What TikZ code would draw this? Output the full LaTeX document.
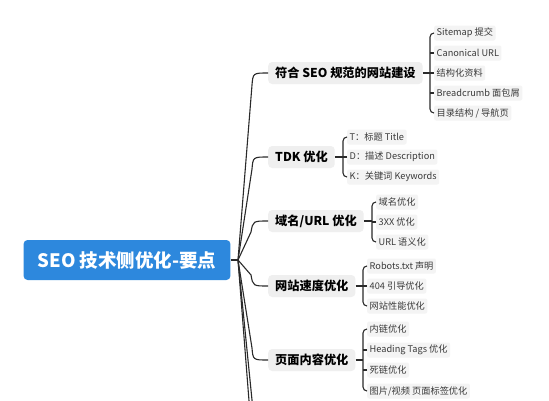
\documentclass[tikz,border=0pt]{standalone}
\usepackage{fontspec}
\setmainfont{Noto Sans CJK SC}
\usetikzlibrary{calc}
\definecolor{rootblue}{HTML}{2D88DD}
\definecolor{linegray}{HTML}{2A2A2A}
\definecolor{mainfill}{HTML}{EFEFEF}
\definecolor{leaffill}{HTML}{F4F4F4}
\definecolor{leaftext}{HTML}{3A3A3A}
\tikzset{
  rootbox/.style={fill=rootblue, text=white, rounded corners=4pt, font=\fontsize{18.5}{20}\selectfont\bfseries, inner xsep=14pt, minimum height=40pt, inner ysep=0pt},
  mainbox/.style={fill=mainfill, text=black, rounded corners=4pt, font=\fontsize{12.2}{13}\selectfont\bfseries, inner xsep=7pt, minimum height=22pt, inner ysep=0pt, anchor=west},
  leafbox/.style={fill=leaffill, text=leaftext, rounded corners=2pt, font=\fontsize{9.2}{10}\selectfont, inner xsep=2.5pt, minimum height=15pt, inner ysep=0pt, anchor=west},
  conn/.style={draw=linegray, line width=1.1pt},
  brk/.style={draw=linegray, line width=1.1pt, rounded corners=4pt},
}
\begin{document}
\begin{tikzpicture}[x=1pt,y=-1pt]
\useasboundingbox (0,0) rectangle (549,400);
\fill[white] (0,0) rectangle (549,400);
\clip (0,0) rectangle (549,400);

% root
\node[rootbox] (root) at (127,260) {SEO 技术侧优化-要点};
\coordinate (hub) at (238,260);
\coordinate (off1) at (250.5,420);
\coordinate (off2) at (254,420);

% main nodes
\node[mainbox] (m1) at (268,73) {符合 SEO 规范的网站建设};
\node[mainbox] (m2) at (268,157) {TDK 优化};
\node[mainbox] (m3) at (268,221) {域名/URL 优化};
\node[mainbox] (m4) at (268,286) {网站速度优化};
\node[mainbox] (m5) at (268,360) {页面内容优化};

% leaves group 1
\node[leafbox] (a1) at (434,33) {Sitemap 提交};
\node[leafbox] (a2) at (434,53) {Canonical URL};
\node[leafbox] (a3) at (434,73) {结构化资料};
\node[leafbox] (a4) at (434,93) {Breadcrumb 面包屑};
\node[leafbox] (a5) at (434,113) {目录结构 / 导航页};
% group 2
\node[leafbox] (b1) at (347,137) {T：标题 Title};
\node[leafbox] (b2) at (347,157) {D：描述 Description};
\node[leafbox] (b3) at (347,177) {K：关键词 Keywords};
% group 3
\node[leafbox] (c1) at (376,202) {域名优化};
\node[leafbox] (c2) at (376,222) {3XX 优化};
\node[leafbox] (c3) at (376,242) {URL 语义化};
% group 4
\node[leafbox] (d1) at (367,266) {Robots.txt 声明};
\node[leafbox] (d2) at (367,286) {404 引导优化};
\node[leafbox] (d3) at (367,306) {网站性能优化};
% group 5
\node[leafbox] (e1) at (367,329) {内链优化};
\node[leafbox] (e2) at (367,350) {Heading Tags 优化};
\node[leafbox] (e3) at (367,370) {死链优化};
\node[leafbox] (e4) at (367,391) {图片/视频 页面标签优化};

% root to hub
\draw[conn] (root.east) -- (hub);
% hub to main nodes (above)
\draw[conn] (hub) -- ([xshift=-16pt,yshift=-12pt]m1.west) .. controls ([xshift=-15pt]m1.west) .. (m1.west);
\draw[conn] (hub) -- ([xshift=-16pt,yshift=-12pt]m2.west) .. controls ([xshift=-15pt]m2.west) .. (m2.west);
\draw[conn] (hub) -- ([xshift=-17pt,yshift=-11pt]m3.west) .. controls ([xshift=-15pt]m3.west) .. (m3.west);
% below
\draw[conn] (hub) -- ([xshift=-17pt,yshift=11pt]m4.west) .. controls ([xshift=-15pt]m4.west) .. (m4.west);
\draw[conn] (hub) -- ([xshift=-16pt,yshift=12pt]m5.west) .. controls ([xshift=-15pt]m5.west) .. (m5.west);
\draw[conn] (hub) -- (off1);
\draw[conn] (hub) -- (off2);

% brackets group 1
\draw[conn] (m1.east) -- ([xshift=-4pt]a3.west);
\draw[brk] (a1.west) -| ([xshift=-4pt]a5.west) -- (a5.west);
\draw[conn] (a2.west) -- ++(-4pt,0);
\draw[conn] (a3.west) -- ++(-4pt,0);
\draw[conn] (a4.west) -- ++(-4pt,0);
% group 2
\draw[conn] (m2.east) -- ([xshift=-4pt]b2.west);
\draw[brk] (b1.west) -| ([xshift=-4pt]b3.west) -- (b3.west);
\draw[conn] (b2.west) -- ++(-4pt,0);
% group 3
\draw[conn] (m3.east) -- ([xshift=-4pt]c2.west |- m3.east);
\draw[brk] (c1.west) -| ([xshift=-4pt]c3.west) -- (c3.west);
\draw[conn] (c2.west) -- ++(-4pt,0);
% group 4
\draw[conn] (m4.east) -- ([xshift=-4pt]d2.west);
\draw[brk] (d1.west) -| ([xshift=-4pt]d3.west) -- (d3.west);
\draw[conn] (d2.west) -- ++(-4pt,0);
% group 5
\draw[conn] (m5.east) -- ([xshift=-4pt]e2.west |- m5.east);
\draw[brk] (e1.west) -| ([xshift=-4pt]e4.west) -- (e4.west);
\draw[conn] (e2.west) -- ++(-4pt,0);
\draw[conn] (e3.west) -- ++(-4pt,0);
\end{tikzpicture}
\end{document}
